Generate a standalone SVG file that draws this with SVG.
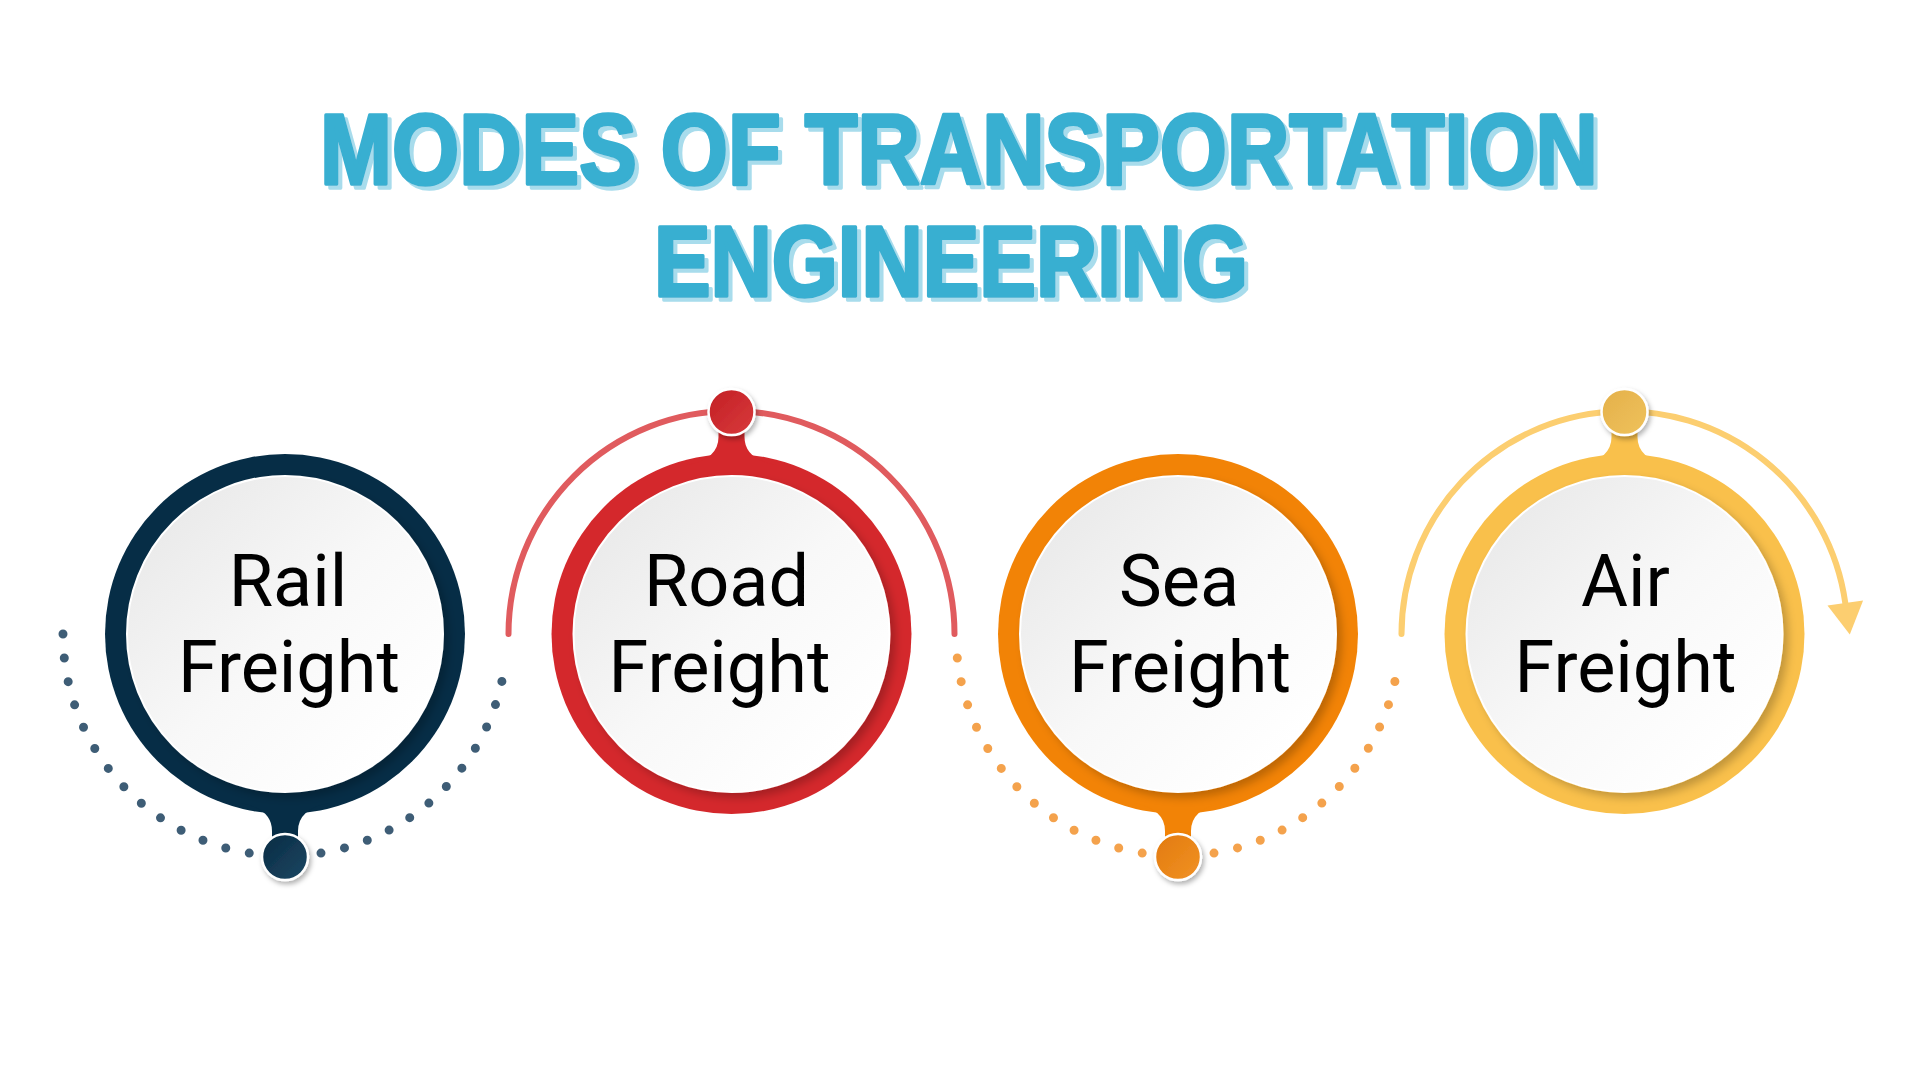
<svg xmlns="http://www.w3.org/2000/svg" width="1920" height="1078" viewBox="0 0 1920 1078">
  <defs>
    <style>
      .title { font-family: "Liberation Sans", Arial, sans-serif; font-weight: bold; font-size: 100px; fill: #39afd1; stroke: #39afd1; stroke-width: 3.5; stroke-linejoin: round; text-anchor: middle; }
      .lbl { font-family: Roboto, "Liberation Sans", sans-serif; font-size: 72px; fill: #000000; text-anchor: middle; }
      .inner { fill: url(#gInner); stroke: #ffffff; stroke-width: 2; filter: url(#fInner); }
      .knob { stroke: #ffffff; stroke-width: 2.5; filter: url(#fKnob); }
      .dots { fill: none; stroke-width: 9; stroke-linecap: round; stroke-dasharray: 0 24.05; }
      .arc { fill: none; stroke-width: 6; stroke-linecap: round; }
    </style>
    <linearGradient id="gInner" x1="0.15" y1="0.15" x2="0.85" y2="0.85">
      <stop offset="0" stop-color="#ebebeb"/>
      <stop offset="0.5" stop-color="#f8f8f8"/>
      <stop offset="1" stop-color="#ffffff"/>
    </linearGradient>
    <linearGradient id="gNavy" x1="0" y1="0" x2="1" y2="1">
      <stop offset="0" stop-color="#082a43"/>
      <stop offset="1" stop-color="#1d4863"/>
    </linearGradient>
    <linearGradient id="gRed" x1="0" y1="0" x2="1" y2="1">
      <stop offset="0" stop-color="#c21f24"/>
      <stop offset="1" stop-color="#d93a3c"/>
    </linearGradient>
    <linearGradient id="gOrange" x1="0" y1="0" x2="1" y2="1">
      <stop offset="0" stop-color="#e27a0c"/>
      <stop offset="1" stop-color="#f19226"/>
    </linearGradient>
    <linearGradient id="gYellow" x1="0" y1="0" x2="1" y2="1">
      <stop offset="0" stop-color="#e4b04a"/>
      <stop offset="1" stop-color="#efc25c"/>
    </linearGradient>
    <filter id="fInner" x="-20%" y="-20%" width="140%" height="140%">
      <feDropShadow dx="5" dy="5" stdDeviation="4" flood-color="#000000" flood-opacity="0.22"/>
    </filter>
    <filter id="fKnob" x="-40%" y="-40%" width="180%" height="180%">
      <feDropShadow dx="2" dy="3" stdDeviation="2.5" flood-color="#000000" flood-opacity="0.3"/>
    </filter>
    <filter id="fTitle" x="-5%" y="-20%" width="110%" height="140%">
      <feDropShadow dx="4" dy="4" stdDeviation="0" flood-color="#a8dcec" flood-opacity="1"/>
    </filter>
    <path id="neckBottom" d="M-44,169 Q-13,175 -13,197 L-13,214 L13,214 L13,197 Q13,175 44,169 Z"/>
    <path id="neckTop" d="M-44,-169 Q-13,-175 -13,-197 L-13,-214 L13,-214 L13,-197 Q13,-175 44,-169 Z"/>
  </defs>

  <rect width="1920" height="1078" fill="#ffffff"/>

  <g id="title" filter="url(#fTitle)">
    <text class="title"><tspan x="959" y="183.5" textLength="1278" lengthAdjust="spacingAndGlyphs">MODES OF TRANSPORTATION</tspan><tspan x="951" y="296" textLength="594" lengthAdjust="spacingAndGlyphs">ENGINEERING</tspan></text>
  </g>

  <g id="connectors">
    <path class="dots" stroke="#3e5d76" d="M63,634 A222,222 0 0 0 505.7,658"/>
    <path class="arc" stroke="#e05b5e" d="M508.5,634 A223,223 0 0 1 954.5,634"/>
    <path class="dots" stroke="#f4a24c" d="M957.3,658 A222,222 0 0 0 1398.7,658"/>
    <path class="arc" stroke="#fcce70" d="M1401.5,634 A223,223 0 0 1 1845.3,603" stroke-linecap="butt"/>
    <polygon fill="#fcce70" points="1827.5,605.5 1863.1,600.5 1849.8,634.5"/>
  </g>

  <g id="node-rail" transform="translate(285,634)">
    <circle r="180" fill="#062d46"/>
    <use href="#neckBottom" fill="#062d46"/>
    <circle class="knob" cx="0" cy="223" r="23" fill="url(#gNavy)"/>
    <circle class="inner" r="158"/>
    <text class="lbl" x="3" y="-28">Rail</text>
    <text class="lbl" x="4" y="58">Freight</text>
  </g>

  <g id="node-road" transform="translate(731.5,634)">
    <circle r="180" fill="#d4282c"/>
    <use href="#neckTop" fill="#d4282c"/>
    <circle class="knob" cx="0" cy="-222" r="23" fill="url(#gRed)"/>
    <circle class="inner" r="158"/>
    <text class="lbl" x="-5" y="-28">Road</text>
    <text class="lbl" x="-12" y="58">Freight</text>
  </g>

  <g id="node-sea" transform="translate(1178,634)">
    <circle r="180" fill="#f28306"/>
    <use href="#neckBottom" fill="#f28306"/>
    <circle class="knob" cx="0" cy="223" r="23" fill="url(#gOrange)"/>
    <circle class="inner" r="158"/>
    <text class="lbl" x="1" y="-28">Sea</text>
    <text class="lbl" x="2" y="58">Freight</text>
  </g>

  <g id="node-air" transform="translate(1624.5,634)">
    <circle r="180" fill="#f9c04b"/>
    <use href="#neckTop" fill="#f9c04b"/>
    <circle class="knob" cx="0" cy="-222" r="23" fill="url(#gYellow)"/>
    <circle class="inner" r="158"/>
    <text class="lbl" x="1" y="-28">Air</text>
    <text class="lbl" x="1" y="58">Freight</text>
  </g>
</svg>
